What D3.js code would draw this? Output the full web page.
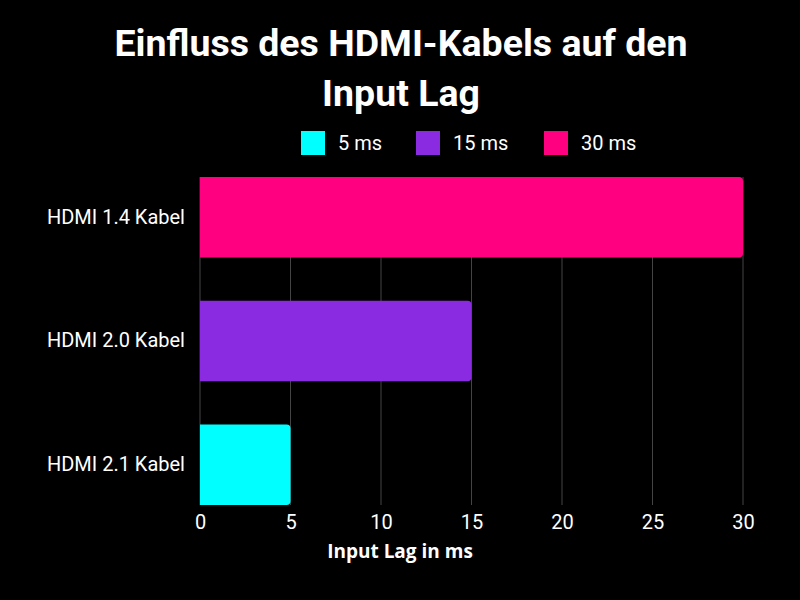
<!DOCTYPE html>
<html>
<head>
<meta charset="utf-8"/>
<title>Einfluss des HDMI-Kabels auf den Input Lag</title>
<style>
body { margin: 0; background: #000; }
svg { display: block; font-family: Roboto, sans-serif; }
.grid line { stroke: #444; stroke-width: 1; }
.tick text { fill: #fff; font-size: 20px; font-family: Roboto, sans-serif; }
</style>
</head>
<body>
<div id="chart"></div>
<script src="https://cdn.jsdelivr.net/npm/d3@7"></script>
<script>
const categories = ["HDMI 1.4 Kabel", "HDMI 2.0 Kabel", "HDMI 2.1 Kabel"];
const values = [30, 15, 5];
const colors = ["#ff0080", "#8a2be2", "#00ffff"];
const legendLabels = ["5 ms", "15 ms", "30 ms"];
const legendColors = ["#00ffff", "#8a2be2", "#ff0080"];
const xTicks = [0, 5, 10, 15, 20, 25, 30];

const width = 800, height = 600;
const margin = {top: 177, right: 57, bottom: 95, left: 200};

const svg = d3.select("#chart").append("svg")
    .attr("width", width)
    .attr("height", height)
    .style("background", "#000");

const x = d3.scaleLinear().domain([0, 30]).range([margin.left, width - margin.right]);
const y = d3.scaleBand().domain(categories)
    .range([margin.top, height - margin.bottom])
    .paddingInner(0.35).paddingOuter(0);

// title
svg.append("text")
    .attr("x", 401).attr("text-anchor", "middle")
    .style("font-family", "Roboto").style("font-weight", "bold")
    .style("font-size", "37.5px").attr("fill", "#fff")
  .selectAll("tspan")
  .data(["Einfluss des HDMI-Kabels auf den", "Input Lag"])
  .join("tspan")
    .attr("x", 401)
    .attr("y", (d, i) => 56 + i * 50)
    .text(d => d);

// legend
const legendX = [301, 416, 544];
const lg = svg.append("g").selectAll("g")
  .data(legendLabels)
  .join("g")
    .attr("transform", (d, i) => `translate(${legendX[i]},131)`);
lg.append("rect").attr("width", 24).attr("height", 24)
    .attr("fill", (d, i) => legendColors[i]);
lg.append("text").attr("x", 37).attr("y", 19)
    .attr("fill", "#fff").style("font-size", "20px").text(d => d);

// grid
svg.append("g").attr("class", "grid")
  .selectAll("line")
  .data(xTicks)
  .join("line")
    .attr("x1", d => x(d)).attr("x2", d => x(d))
    .attr("y1", margin.top).attr("y2", height - margin.bottom);

// bars with rounded right end
const r = 4;
svg.append("g").selectAll("path")
  .data(values)
  .join("path")
    .attr("fill", (d, i) => colors[i])
    .attr("d", (d, i) => {
      const x0 = x(0), x1 = x(d), y0 = y(categories[i]), h = y.bandwidth();
      return `M${x0},${y0}H${x1 - r}Q${x1},${y0} ${x1},${y0 + r}V${y0 + h - r}Q${x1},${y0 + h} ${x1 - r},${y0 + h}H${x0}Z`;
    });

// y axis labels
const yAxis = svg.append("g")
    .attr("transform", `translate(${margin.left},0)`)
    .call(d3.axisLeft(y).tickSize(0).tickPadding(15));
yAxis.select(".domain").remove();
yAxis.selectAll(".tick text").attr("fill", "#f2f2f2");

// x axis
const xAxis = svg.append("g")
    .attr("transform", `translate(0,${height - margin.bottom})`)
    .call(d3.axisBottom(x).tickValues(xTicks).tickSize(0).tickPadding(10));
xAxis.select(".domain").remove();

svg.append("text")
    .attr("x", 400).attr("y", 558)
    .attr("text-anchor", "middle")
    .attr("fill", "#fff")
    .style("font-family", "'Open Sans'").style("font-weight", "bold")
    .style("font-size", "19px")
    .text("Input Lag in ms");
</script>
</body>
</html>
